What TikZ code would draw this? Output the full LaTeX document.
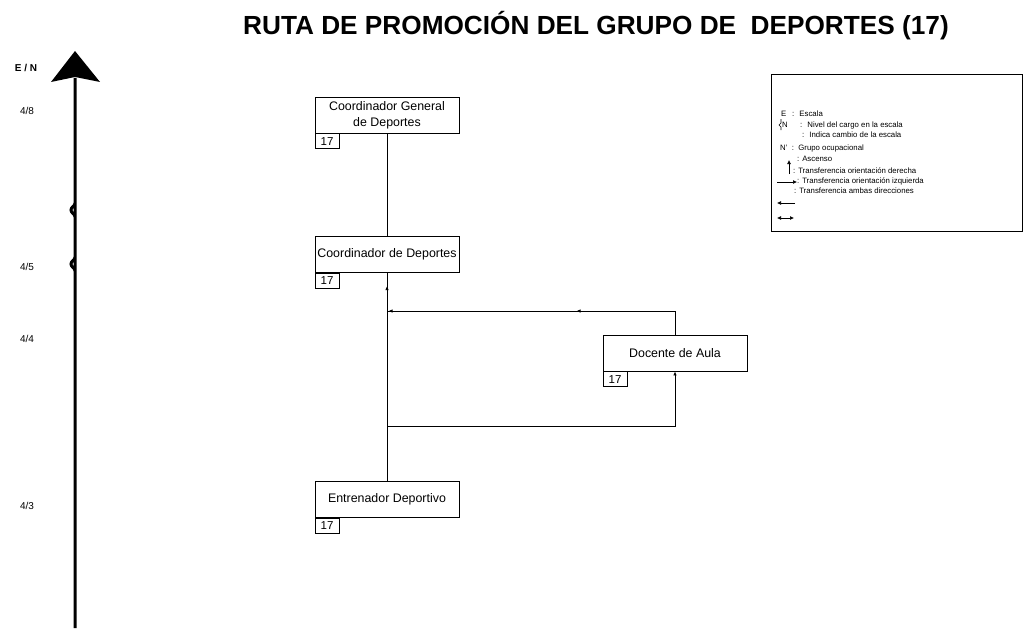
\documentclass[tikz,border=0pt]{standalone}
\usepackage{fontspec}
\setmainfont{Liberation Sans}
\usetikzlibrary{arrows.meta,decorations.markings}
\tikzset{
  cargo/.style={draw,line width=0.9pt,minimum width=144pt,minimum height=36pt,inner sep=1pt,align=center,font=\fontsize{12.4}{16}\selectfont},
  tag/.style={draw,line width=0.9pt,minimum width=24pt,minimum height=15pt,inner sep=0pt,anchor=north west,font=\fontsize{11.5}{12}\selectfont},
  conn/.style={line width=0.9pt},
  tipmk/.style={-{Latex[length=4pt,width=3.5pt]}},
  lvl/.style={font=\fontsize{10}{11}\selectfont},
  leg/.style={anchor=west,inner sep=0pt,font=\fontsize{7.8}{8}\selectfont},
  legarrow/.style={line width=0.7pt},
}
\begin{document}
\begin{tikzpicture}[x=1pt,y=-1pt]
\useasboundingbox (0,0) rectangle (1026,634);
% title
\node (title) at (596,26) {\fontsize{26.2}{28}\selectfont\bfseries RUTA DE PROMOCIÓN DEL GRUPO DE\ \ DEPORTES (17)};
% axis
\fill (75,51) -- (100,82) -- (75,77) -- (51,82) -- cycle;
\draw[line width=3pt] (75,628) -- (75,203) to[out=-90,in=90] (71,210) to[out=-90,in=90] (75,217) -- (75,257) to[out=-90,in=90] (71,264) to[out=-90,in=90] (75,271) -- (75,78);
\node[lvl,font=\fontsize{10}{11}\selectfont\bfseries] (en) at (26,68) {E / N};
\node[lvl] (l8) at (27,111) {4/8};
\node[lvl] (l5) at (27,267) {4/5};
\node[lvl] (l4) at (27,339) {4/4};
\node[lvl] (l3) at (27,506) {4/3};
% boxes
\node[cargo] (cg) at (387,115) {Coordinador General\\de Deportes};
\node[tag] (cgt) at (cg.south west) {17};
\node[cargo] (cd) at (387,254.5) {Coordinador de Deportes};
\node[tag] (cdt) at (cd.south west) {17};
\node[cargo] (da) at (675,353) {Docente de Aula};
\node[tag] (dat) at (da.south west) {17};
\node[cargo] (ed) at (387,499.5) {Entrenador Deportivo};
\node[tag] (edt) at (ed.south west) {17};
% connectors
\coordinate (jt) at (387,311);
\coordinate (jb) at (387,426);
\coordinate (dtop) at (675,311);
\coordinate (dbot) at (675,426);
\draw[conn] (cg) -- (cd);
\draw[conn,postaction={decorate},decoration={markings,mark=at position 195pt with {\arrow{Latex[length=4pt,width=3.5pt]}}}] (ed) -- (cd);
\draw[conn,postaction={decorate},decoration={markings,
   mark=at position 122pt with {\arrow{Latex[length=4pt,width=3.5pt]}},
   mark=at position 310pt with {\arrow{Latex[length=4pt,width=3.5pt]}}}] (da.north) -- (dtop) -- (jt);
\draw[conn,tipmk] (jb) -- (dbot) -- (da.south);
% legend
\node[draw,line width=0.9pt,minimum width=251pt,minimum height=157pt,inner sep=0pt] (legend) at (896.5,152.5) {};
\node[leg] (le) at (781,114) {E};
\node[leg] (le2) at (792,114) {: \ Escala};
\node[leg] (ln) at (782,125) {N};
\draw[line width=0.6pt] (781,119) -- (781,123) -- (779,125) -- (781,127) -- (781,130);
\node[leg] (ln2) at (800,125) {: \ Nivel del cargo en la escala};
\node[leg] (li) at (802,135) {: \ Indica cambio de la escala};
\node[leg] (lg) at (780,148) {N' \ : \ Grupo ocupacional};
\node[leg] (la) at (797,159) {: Ascenso};
\coordinate (a1) at (789,174);
\coordinate (a2) at (789,160);
\draw[legarrow,-{Latex[length=4pt,width=4pt]}] (a1) -- (a2);
\node[leg] (ltd) at (793,171) {: Transferencia orientación derecha};
\coordinate (b1) at (777,182);
\coordinate (b2) at (797,182);
\draw[legarrow,-{Latex[length=4pt,width=4pt]}] (b1) -- (b2);
\node[leg] (lti) at (797,181) {: Transferencia orientación izquierda};
\node[leg] (ltb) at (794,191) {: Transferencia ambas direcciones};
\coordinate (c1) at (795,203);
\coordinate (c2) at (777,203);
\draw[legarrow,-{Latex[length=4pt,width=4pt]}] (c1) -- (c2);
\coordinate (d1) at (777,218);
\coordinate (d2) at (794,218);
\draw[legarrow,{Latex[length=4pt,width=4pt]}-{Latex[length=4pt,width=4pt]}] (d1) -- (d2);
\end{tikzpicture}
\end{document}
